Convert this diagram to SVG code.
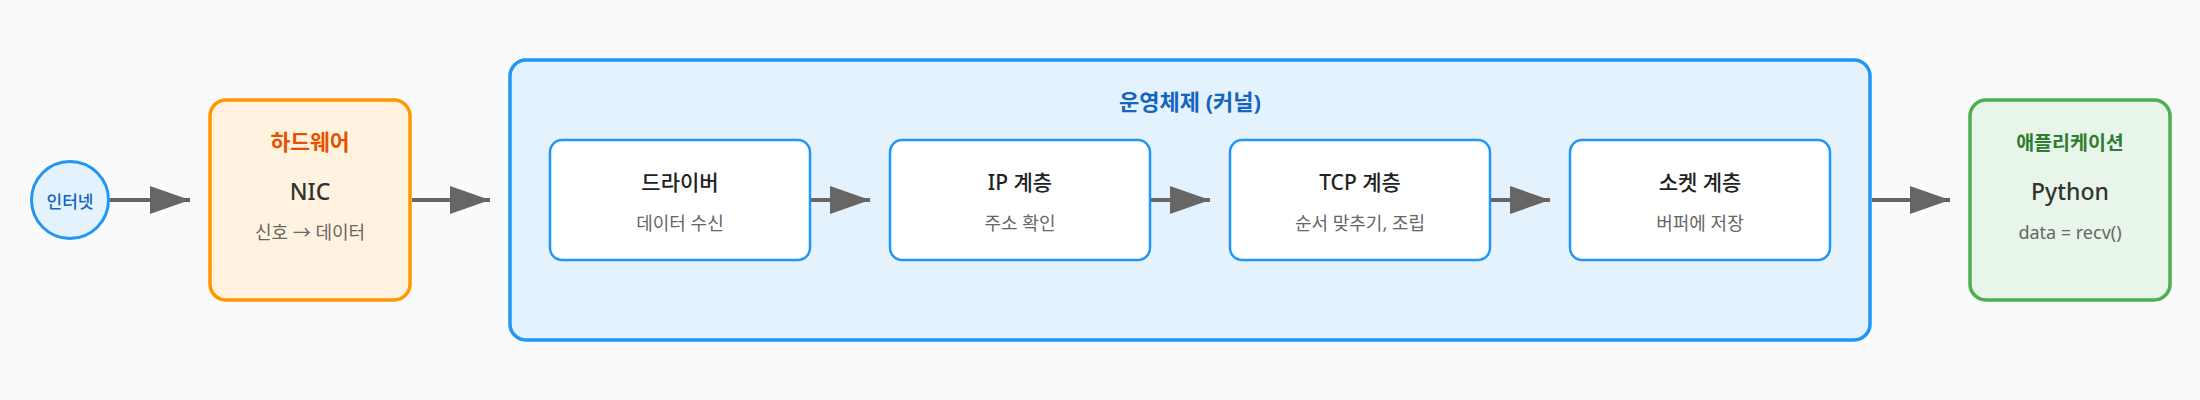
<svg xmlns="http://www.w3.org/2000/svg" width="2200" height="400" viewBox="0 0 2200 400">
<defs>
<style>
text{font-family:"Noto Sans","Noto Sans CJK KR",sans-serif;text-anchor:middle}
.title{font-weight:bold}
.main{font-size:23px;font-weight:500;fill:#333}
.inner-title{font-size:21px;font-weight:500;fill:#222}
.sub{font-size:18px;fill:#666}
.inner{fill:#fff;stroke:#2196f3;stroke-width:2.5}
.conn{stroke:#666;stroke-width:4;fill:none;marker-end:url(#arr)}
</style>
<marker id="arr" viewBox="0 0 10 7" refX="10" refY="3.5" markerWidth="10" markerHeight="7" orient="auto" markerUnits="strokeWidth">
<polygon points="0 0,10 3.5,0 7" fill="#666"/>
</marker>
</defs>
<rect width="2200" height="400" fill="#fafafa"/>
<g id="internet">
<circle cx="70" cy="200" r="38.5" fill="#e3f2fd" stroke="#2196f3" stroke-width="3"/>
<text x="70" y="208" style="font-size:17px;font-weight:500;fill:#1565c0">인터넷</text>
</g>
<g id="hardware">
<rect x="210" y="100" width="200" height="200" rx="16" fill="#fff3e0" stroke="#ff9800" stroke-width="3.5"/>
<text x="310" y="150" class="title" style="font-size:21.5px;fill:#e65100">하드웨어</text>
<text x="310" y="200" class="main">NIC</text>
<text x="310" y="239" class="sub">신호 → 데이터</text>
</g>
<g id="os">
<rect x="510" y="60" width="1360" height="280" rx="16" fill="#e3f2fd" stroke="#2196f3" stroke-width="3.5"/>
<text x="1190" y="110" class="title" style="font-size:22px;fill:#1565c0">운영체제 (커널)</text>
</g>
<g id="driver">
<rect x="550" y="140" width="260" height="120" rx="12" class="inner"/>
<text x="680" y="190" class="inner-title">드라이버</text>
<text x="680" y="230" class="sub">데이터 수신</text>
</g>
<g id="ip">
<rect x="890" y="140" width="260" height="120" rx="12" class="inner"/>
<text x="1020" y="190" class="inner-title">IP 계층</text>
<text x="1020" y="230" class="sub">주소 확인</text>
</g>
<g id="tcp">
<rect x="1230" y="140" width="260" height="120" rx="12" class="inner"/>
<text x="1360" y="190" class="inner-title">TCP 계층</text>
<text x="1360" y="230" class="sub">순서 맞추기, 조립</text>
</g>
<g id="socket">
<rect x="1570" y="140" width="260" height="120" rx="12" class="inner"/>
<text x="1700" y="190" class="inner-title">소켓 계층</text>
<text x="1700" y="230" class="sub">버퍼에 저장</text>
</g>
<g id="app">
<rect x="1970" y="100" width="200" height="200" rx="16" fill="#e8f5e9" stroke="#4caf50" stroke-width="3.5"/>
<text x="2070" y="150" class="title" style="font-size:19.5px;fill:#2e7d32">애플리케이션</text>
<text x="2070" y="200" class="main">Python</text>
<text x="2070" y="239" class="sub">data = recv()</text>
</g>
<g id="connectors">
<line x1="110" y1="200" x2="190" y2="200" class="conn"/>
<line x1="412" y1="200" x2="490" y2="200" class="conn"/>
<line x1="811" y1="200" x2="870" y2="200" class="conn"/>
<line x1="1151" y1="200" x2="1210" y2="200" class="conn"/>
<line x1="1491" y1="200" x2="1550" y2="200" class="conn"/>
<line x1="1872" y1="200" x2="1950" y2="200" class="conn"/>
</g>
</svg>
